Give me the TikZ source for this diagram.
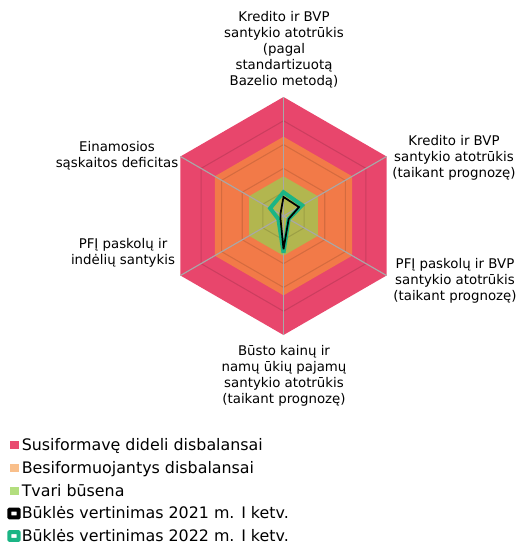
\documentclass[tikz,border=0pt]{standalone}
\usepackage{fontspec}
\setmainfont{DejaVu Sans}
\usetikzlibrary{calc}
\definecolor{cred}{HTML}{E8466C}
\definecolor{corange}{HTML}{F27A48}
\definecolor{cgreen}{HTML}{B2B64F}
\definecolor{lred}{HTML}{E94B70}
\definecolor{lorange}{HTML}{F9BF8B}
\definecolor{lgreen}{HTML}{B3DE7E}
\definecolor{cteal}{HTML}{1BB585}
\definecolor{caxis}{HTML}{A8A8A8}
\newcommand\hexpath[1]{($(c)!#1!(v0)$)--($(c)!#1!(v1)$)--($(c)!#1!(v2)$)--($(c)!#1!(v3)$)--($(c)!#1!(v4)$)--($(c)!#1!(v5)$)--cycle}
\tikzset{
  axlabel/.style={font=\fontsize{10}{12}\selectfont, align=center, inner sep=0pt, anchor=north},
  legsq/.style={inner sep=0pt, minimum width=6.75pt, minimum height=6pt},
  legmark/.style={draw=#1, line width=3pt, fill=white, inner sep=0pt, minimum width=6.9pt, minimum height=5.8pt, rounded corners=0.4pt},
  legtext/.style={font=\fontsize{11.9}{13}\selectfont, inner sep=0pt, anchor=base west},
  gridline/.style={draw=black, opacity=0.12, line width=0.8pt},
  axisline/.style={draw=caxis, line width=0.85pt},
  series/.style={draw=#1, miter limit=4, line join=miter},
}
\begin{document}
\begin{tikzpicture}[x=0.75pt,y=-0.75pt]
\useasboundingbox (0,0) rectangle (519,543);
\coordinate (c) at (283.5,216);
\foreach \a [count=\i from 0] in {-90,-30,30,90,150,210}
  \coordinate (v\i) at ($(c)+(\a:119)$);
% zones
\fill[cred] \hexpath{1};
\fill[corange] \hexpath{0.6667};
\fill[cgreen] \hexpath{0.3333};
% grid
\foreach \f in {0.2,0.4,0.6,0.8}
  \draw[gridline] \hexpath{\f};
% axes
\foreach \i in {0,...,5}
  \draw[axisline] (c) -- (v\i);
% data 2022
\foreach \r [count=\i from 0] in {0.20,0.18,0.05,0.31,0.05,0.13}
  \coordinate (g\i) at ($(c)!\r!(v\i)$);
\draw[series=cteal, line width=3pt] (g0)--(g1)--(g2)--(g3)--(g4)--(g5)--cycle;
% data 2021
\foreach \r [count=\i from 0] in {0.16,0.15,0.05,0.28,0.03,0.03}
  \coordinate (b\i) at ($(c)!\r!(v\i)$);
\draw[series=black, line width=1.3pt] (b0)--(b1)--(b2)--(b3)--(b4)--(b5)--cycle;
% axis labels
\node[axlabel] (lab0) at (284,11.5) {Kredito ir BVP\\santykio atotrūkis\\(pagal\\standartizuotą\\Bazelio metodą)};
\node[axlabel] (lab1) at (454,135) {Kredito ir BVP\\santykio atotrūkis\\(taikant prognozę)};
\node[axlabel] (lab2) at (455,258) {PFĮ paskolų ir BVP\\santykio atotrūkis\\(taikant prognozę)};
\node[axlabel] (lab3) at (284,345) {Būsto kainų ir\\namų ūkių pajamų\\santykio atotrūkis\\(taikant prognozę)};
\node[axlabel] (lab4) at (123,238) {PFĮ paskolų ir\\indėlių santykis};
\node[axlabel] (lab5) at (117,141.5) {Einamosios\\sąskaitos deficitas};
% legend
\node[legsq, fill=lred] (k1) at (14,444.5) {};
\node[legtext] (t1) at (21.5,450) {Susiformavę dideli disbalansai};
\node[legsq, fill=lorange] (k2) at (14,467.5) {};
\node[legtext] (t2) at (21.5,473) {Besiformuojantys disbalansai};
\node[legsq, fill=lgreen] (k3) at (14,490.5) {};
\node[legtext] (t3) at (21.5,496) {Tvari būsena};
\node[legmark=black] (k4) at (14,513.5) {};
\node[legtext] (t4) at (21.5,518.5) {Būklės vertinimas 2021 m. I ketv.};
\node[legmark=cteal] (k5) at (14,536) {};
\node[legtext] (t5) at (21.5,541) {Būklės vertinimas 2022 m. I ketv.};
\end{tikzpicture}
\end{document}
